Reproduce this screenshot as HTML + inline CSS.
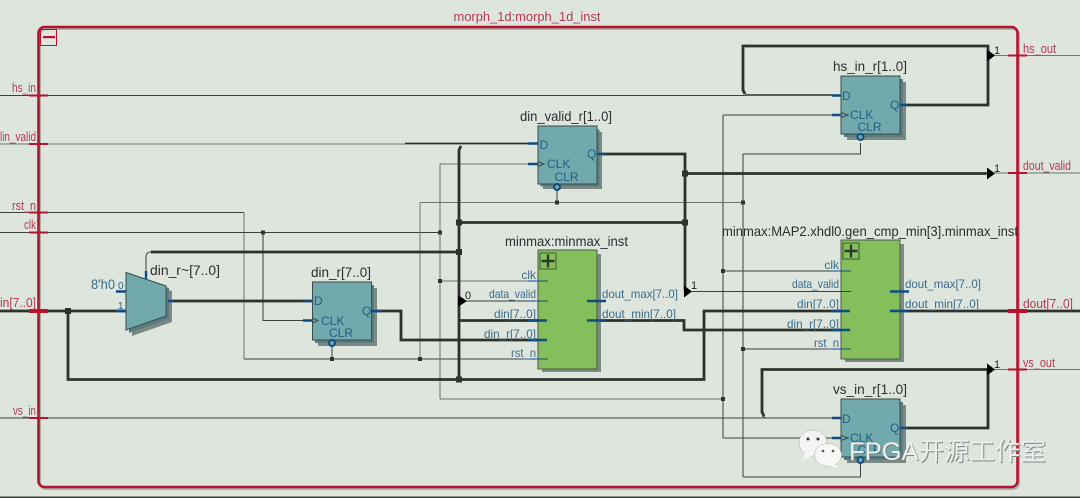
<!DOCTYPE html>
<html><head><meta charset="utf-8"><style>
html,body{margin:0;padding:0;background:#dde5dd;width:1080px;height:498px;overflow:hidden}
svg{display:block}
text{font-family:"Liberation Sans","Noto Sans CJK SC",sans-serif}
.r{fill:#b23a52;font-size:12.5px}
.k{fill:#2b2f2f;font-size:14px}
.b{fill:#3a6c8c;font-size:12px}
.c{fill:#1f5f86;font-size:12px}
.n{fill:#222;font-size:11px}
.t{fill:none;stroke:#3c413c;stroke-width:1}
.g{fill:none;stroke:#6f746f;stroke-width:1}
.w{fill:none;stroke:#2d322d;stroke-width:2.8;stroke-linejoin:miter}
.s{fill:none;stroke:#0f4c81;stroke-width:2.4}
.j{fill:#2d322d}
.a{fill:#000}
.bk{fill:#72a9ad;stroke:#3c4a48;stroke-width:1}
.gr{fill:#84bf5c;stroke:#4d5a48;stroke-width:1}
.sh1{fill:#5b7c7e}.sh2{fill:#7b8a84}
</style></head><body>
<svg width="1080" height="498" viewBox="0 0 1080 498" xmlns="http://www.w3.org/2000/svg">
<rect width="1080" height="498" fill="#dde5dd"/>
<rect x="0" y="496.500" width="1080" height="1.500" fill="#3a3f3a"/>

<!-- frame -->
<rect x="40" y="29" width="979" height="460" rx="6" fill="none" stroke="#a9aea9" stroke-width="2"/>
<rect x="38.500" y="27" width="979" height="460" rx="6" fill="none" stroke="#b8122f" stroke-width="2.600"/>
<rect x="40.500" y="29.500" width="16" height="16" fill="none" stroke="#b8122f" stroke-width="1"/>
<rect x="43" y="36" width="12" height="2.200" fill="#b8122f"/>
<text class="r" x="453.500" y="21" textLength="147" lengthAdjust="spacingAndGlyphs">morph_1d:morph_1d_inst</text>

<!-- thin wires -->
<path class="t" d="M0 95.500H745"/>
<path class="g" d="M0 144H405"/>
<path class="t" d="M0 212.500H244"/>
<path class="g" d="M244 212.500V359"/>
<path class="t" d="M244 359H548"/>
<path class="t" d="M0 232.500H440"/>
<path class="t" d="M263 232.500V320.500H303"/>
<path class="g" d="M440 164V399"/>
<path class="g" d="M440 164H528"/>
<path class="g" d="M440 399H723"/>
<path class="t" d="M723 115V438"/>
<path class="t" d="M723 115H833M723 438H833"/>
<path class="g" d="M440 281H548"/>
<path class="t" d="M723 271H851"/>
<path class="g" d="M420 202.500V359"/>
<path class="g" d="M420 202.500H743"/>
<path class="t" d="M557 202.500V188"/>
<path class="t" d="M332 359V345"/>
<path class="t" d="M743 154V477"/>
<path class="t" d="M743 154H860.500V143"/>
<path class="t" d="M743 477H860.500V463"/>
<path class="t" d="M743 349H851"/>
<path class="t" d="M466 301H548"/>
<path class="t" d="M692 291.500H851"/>
<path class="t" d="M0 418H833"/>
<path class="g" d="M994 55.500H1080"/>
<path class="g" d="M994 173H1080"/>
<path class="g" d="M994 369.500H1080"/>
<path class="t" d="M146 272V257Q146 252 151 252"/>

<!-- thick wires -->
<path class="w" d="M745 95H833" style="stroke-width:1.600"/>
<path class="w" d="M405 143.500H528" style="stroke-width:1.800"/>
<path class="w" d="M745 94L743 90V46H988V105H902"/>
<path class="w" d="M461 146L459 150V379"/>
<path class="w" d="M599 154H685V291"/>
<path class="w" d="M685 173.500H988"/>
<path class="w" d="M459 222.500H685"/>
<path class="w" d="M151 252H459"/>
<path class="w" d="M0 311H126"/>
<path class="w" d="M68 311V379.500H704V311H850"/>
<path class="w" d="M459 320.500H547"/>
<path class="w" d="M168 301H312"/>
<path class="w" d="M373 311H401V340H547"/>
<path class="w" d="M587 320.500H684V330H850"/>
<path class="w" d="M890 311H1080"/>
<path class="w" d="M764 416L762 412V369.500H988V428H902"/>
<path class="t" d="M762 416L766 418"/>

<!-- arrowheads -->
<path class="a" d="M987 49.500L995 55.500L987 61.500Z"/>
<path class="a" d="M987 167.500L995 173.500L987 179.500Z"/>
<path class="a" d="M987 363.500L995 369.500L987 375.500Z"/>
<path class="a" d="M458 295L467 301L458 307Z"/>
<path class="a" d="M684 285.500L692 291.500L684 297.500Z"/>
<text class="n" x="994" y="54">1</text>
<text class="n" x="994" y="172">1</text>
<text class="n" x="994" y="368">1</text>
<text class="n" x="465" y="299">0</text>
<text class="n" x="691" y="289">1</text>

<!-- junctions -->
<g class="j">
<rect x="65" y="308" width="6" height="6"/>
<rect x="261" y="230.500" width="4" height="4"/>
<rect x="438" y="230.500" width="4" height="4"/>
<rect x="438" y="279" width="4" height="4"/>
<rect x="330" y="357" width="4" height="4"/>
<rect x="418" y="357" width="4" height="4"/>
<rect x="555" y="200.500" width="4" height="4"/>
<rect x="741" y="200.500" width="4" height="4"/>
<rect x="741" y="347" width="4" height="4"/>
<rect x="721" y="269" width="4" height="4"/>
<rect x="721" y="397" width="4" height="4"/>
<rect x="456" y="219.500" width="6" height="6"/>
<rect x="456" y="249" width="6" height="6"/>
<rect x="456" y="376.500" width="6" height="6"/>
<rect x="682" y="219.500" width="6" height="6"/>
<rect x="682" y="170.500" width="6" height="6"/>
</g>

<!-- port ticks -->
<g fill="#b8122f">
<rect x="29" y="94.500" width="19" height="2"/>
<rect x="29" y="143" width="19" height="2"/>
<rect x="29" y="211.500" width="19" height="2"/>
<rect x="29" y="231.500" width="19" height="2"/>
<rect x="29" y="309" width="19" height="4"/>
<rect x="29" y="417" width="19" height="2"/>
<rect x="1008" y="54.500" width="19" height="2"/>
<rect x="1008" y="172" width="19" height="2"/>
<rect x="1008" y="309" width="19" height="4"/>
<rect x="1008" y="368.500" width="19" height="2"/>
</g>
<text class="r" x="12" y="92" textLength="24" lengthAdjust="spacingAndGlyphs">hs_in</text>
<text class="r" x="0" y="141" textLength="36" lengthAdjust="spacingAndGlyphs">lin_valid</text>
<text class="r" x="12" y="210" textLength="24" lengthAdjust="spacingAndGlyphs">rst_n</text>
<text class="r" x="24" y="229" textLength="12" lengthAdjust="spacingAndGlyphs">clk</text>
<text class="r" x="0" y="307" textLength="36" lengthAdjust="spacingAndGlyphs">in[7..0]</text>
<text class="r" x="13" y="415" textLength="23" lengthAdjust="spacingAndGlyphs">vs_in</text>
<text class="r" x="1023" y="53" textLength="33" lengthAdjust="spacingAndGlyphs">hs_out</text>
<text class="r" x="1023" y="170" textLength="48" lengthAdjust="spacingAndGlyphs">dout_valid</text>
<text class="r" x="1023" y="308" textLength="50" lengthAdjust="spacingAndGlyphs">dout[7..0]</text>
<text class="r" x="1023" y="367" textLength="32" lengthAdjust="spacingAndGlyphs">vs_out</text>

<!-- mux -->
<path class="sh2" d="M132 278L172 291V322L132 336Z"/>
<path class="sh1" d="M129 275L169 288V319L129 333Z"/>
<path class="bk" d="M126 272.500L166 286V316L126 330Z"/>
<path class="s" d="M116 291.500H126M116 311H126M168 301H174M146 271V279"/>
<text class="k" x="150" y="275" textLength="70" lengthAdjust="spacingAndGlyphs">din_r~[7..0]</text>
<text x="91" y="289" style="font-size:14px;fill:#3a6c8c" textLength="24" lengthAdjust="spacingAndGlyphs">8'h0</text>
<text class="c" x="118" y="289" style="font-size:10px">0</text>
<text class="c" x="118" y="309" style="font-size:10px">1</text>

<!-- din_r -->
<g>
<rect class="sh2" x="318" y="288" width="59" height="58"/>
<rect class="sh1" x="315" y="285" width="59" height="58"/>
<rect class="bk" x="312.500" y="282" width="59" height="58"/>
<path class="s" d="M303 301H312M303 320.500H312M372 311H381"/>
<path d="M312 318L318 320.500L312 323" fill="none" stroke="#3c4a48"/>
<text class="c" x="314" y="305">D</text>
<text class="c" x="321" y="325">CLK</text>
<text class="c" x="329" y="337">CLR</text>
<text class="c" x="362" y="315">Q</text>
<circle cx="332" cy="343" r="3" fill="#72a9ad" stroke="#0f4c81" stroke-width="2"/>
<text class="k" x="311" y="277" textLength="60" lengthAdjust="spacingAndGlyphs">din_r[7..0]</text>
</g>

<!-- din_valid_r -->
<g>
<rect class="sh2" x="543" y="132" width="59" height="57"/>
<rect class="sh1" x="540.500" y="129.500" width="59" height="57"/>
<rect class="bk" x="538" y="126" width="59" height="58"/>
<path class="s" d="M528 143.500H538M528 164H538M597 154H606"/>
<path d="M538 161.500L544 164L538 166.500" fill="none" stroke="#3c4a48"/>
<text class="c" x="539.500" y="149">D</text>
<text class="c" x="547" y="168">CLK</text>
<text class="c" x="554.500" y="181">CLR</text>
<text class="c" x="587" y="158">Q</text>
<circle cx="557" cy="187" r="3" fill="#72a9ad" stroke="#0f4c81" stroke-width="2"/>
<text class="k" x="520" y="121" textLength="92" lengthAdjust="spacingAndGlyphs">din_valid_r[1..0]</text>
</g>

<!-- hs_in_r -->
<g>
<rect class="sh2" x="847" y="82" width="59" height="58"/>
<rect class="sh1" x="844" y="79" width="59" height="58"/>
<rect class="bk" x="841" y="76" width="59" height="58"/>
<path class="s" d="M832 95.500H841M832 115H841M900 105H908"/>
<path d="M841 112.500L848 115L841 117.500" fill="none" stroke="#3c4a48"/>
<text class="c" x="842" y="100">D</text>
<text class="c" x="850" y="119">CLK</text>
<text class="c" x="857.500" y="131">CLR</text>
<text class="c" x="890" y="109">Q</text>
<circle cx="860.500" cy="137" r="3" fill="#72a9ad" stroke="#0f4c81" stroke-width="2"/>
<text class="k" x="833" y="71" textLength="74" lengthAdjust="spacingAndGlyphs">hs_in_r[1..0]</text>
</g>

<!-- vs_in_r -->
<g>
<rect class="sh2" x="847" y="405" width="59" height="58"/>
<rect class="sh1" x="844" y="402" width="59" height="58"/>
<rect class="bk" x="841" y="399" width="59" height="58"/>
<path class="s" d="M832 418H841M832 438H841M900 428H908"/>
<path d="M841 435.500L848 438L841 440.500" fill="none" stroke="#3c4a48"/>
<text class="c" x="842" y="423">D</text>
<text class="c" x="850" y="442">CLK</text>
<text class="c" x="857.500" y="454">CLR</text>
<text class="c" x="890" y="432">Q</text>
<circle cx="860.500" cy="460" r="3" fill="#72a9ad" stroke="#0f4c81" stroke-width="2"/>
<text class="k" x="833" y="394" textLength="74" lengthAdjust="spacingAndGlyphs">vs_in_r[1..0]</text>
</g>

<!-- minmax_inst -->
<g>
<rect class="sh2" x="542" y="254" width="59" height="118"/>
<rect class="gr" x="538" y="250" width="59" height="119"/>
<rect x="540" y="253" width="16" height="16" fill="none" stroke="#3d5a30" stroke-width="1"/>
<path d="M541.500 261H554.500M548 254.500V267.500" stroke="#2c3a28" stroke-width="2.400" fill="none"/>
<path class="s" d="M528 320.500H547M528 340H547M587 301H606M587 320.500H606"/>
<path d="M528 281H548M528 301H548M528 359H548" stroke="#0f4c81" stroke-width="1" fill="none"/>
<text class="b" x="536" y="279" text-anchor="end">clk</text>
<text class="b" x="489" y="298" textLength="47" lengthAdjust="spacingAndGlyphs">data_valid</text>
<text class="b" x="494" y="318" textLength="42" lengthAdjust="spacingAndGlyphs">din[7..0]</text>
<text class="b" x="484" y="338" textLength="52" lengthAdjust="spacingAndGlyphs">din_r[7..0]</text>
<text class="b" x="511" y="357" textLength="25" lengthAdjust="spacingAndGlyphs">rst_n</text>
<text class="b" x="602" y="298" textLength="76" lengthAdjust="spacingAndGlyphs">dout_max[7..0]</text>
<text class="b" x="602" y="318" textLength="74" lengthAdjust="spacingAndGlyphs">dout_min[7..0]</text>
<text class="k" x="505" y="246" textLength="123" lengthAdjust="spacingAndGlyphs">minmax:minmax_inst</text>
</g>

<!-- gen_cmp_min -->
<g>
<rect class="sh2" x="845" y="244" width="59" height="118"/>
<rect class="gr" x="841" y="240" width="59" height="119"/>
<rect x="843" y="243" width="16" height="16" fill="none" stroke="#3d5a30" stroke-width="1"/>
<path d="M844.500 251H857.500M851 244.500V257.500" stroke="#2c3a28" stroke-width="2.400" fill="none"/>
<path class="s" d="M831 311H850M831 330H850M890 291.500H909M890 311H909"/>
<path d="M831 271H851M831 291.500H851M831 349H851" stroke="#0f4c81" stroke-width="1" fill="none"/>
<text class="b" x="839" y="269" text-anchor="end">clk</text>
<text class="b" x="792" y="288" textLength="47" lengthAdjust="spacingAndGlyphs">data_valid</text>
<text class="b" x="797" y="308" textLength="42" lengthAdjust="spacingAndGlyphs">din[7..0]</text>
<text class="b" x="787" y="328" textLength="52" lengthAdjust="spacingAndGlyphs">din_r[7..0]</text>
<text class="b" x="814" y="347" textLength="25" lengthAdjust="spacingAndGlyphs">rst_n</text>
<text class="b" x="905" y="288" textLength="76" lengthAdjust="spacingAndGlyphs">dout_max[7..0]</text>
<text class="b" x="905" y="308" textLength="74" lengthAdjust="spacingAndGlyphs">dout_min[7..0]</text>
<text class="k" x="722" y="236" textLength="296" lengthAdjust="spacingAndGlyphs">minmax:MAP2.xhdl0.gen_cmp_min[3].minmax_inst</text>
</g>

<!-- watermark -->
<g>
<ellipse cx="813" cy="443" rx="14" ry="13" fill="#f4f5f3" stroke="#aaa" stroke-width=".5"/>
<path d="M805 453L802 461L814 455Z" fill="#f4f5f3"/>
<ellipse cx="828" cy="455" rx="13.500" ry="11.500" fill="#f7f8f6" stroke="#aaa" stroke-width=".5"/>
<path d="M834 464L839 468L829 466Z" fill="#f7f8f6"/>
<circle cx="808" cy="439" r="1.500" fill="#333"/><circle cx="818" cy="439" r="1.500" fill="#333"/>
<circle cx="823" cy="451" r="1.300" fill="#555"/><circle cx="833" cy="451" r="1.300" fill="#555"/>
<text x="849" y="460" style="font-size:25px;fill:#7f8581" textLength="197" lengthAdjust="spacingAndGlyphs" transform="translate(1 1)">FPGA开源工作室</text>
<text x="849" y="460" style="font-size:25px;fill:#eef0ee" textLength="197" lengthAdjust="spacingAndGlyphs">FPGA开源工作室</text>
</g>
</svg>
</body></html>
